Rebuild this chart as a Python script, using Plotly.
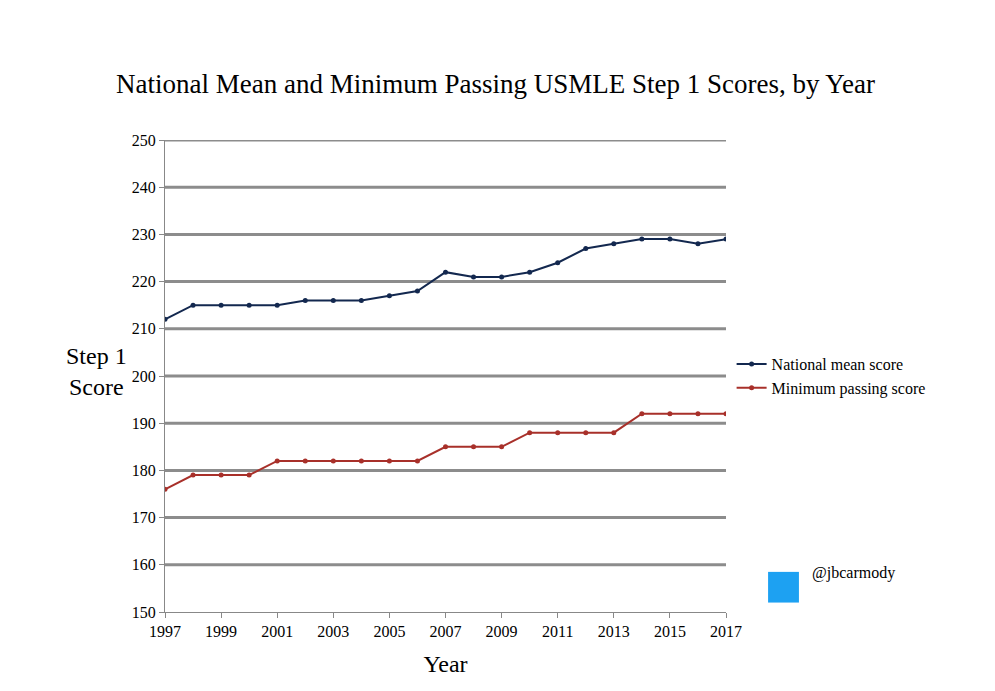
import plotly.graph_objects as go

years = list(range(1997, 2018))
mean_scores = [212, 215, 215, 215, 215, 216, 216, 216, 217, 218, 222, 221, 221, 222, 224, 227, 228, 229, 229, 228, 229]
min_scores = [176, 179, 179, 179, 182, 182, 182, 182, 182, 182, 185, 185, 185, 188, 188, 188, 188, 192, 192, 192, 192]

F = "Liberation Serif"
fig = go.Figure()
for v in range(160, 260, 10):
    fig.add_hline(y=v, line=dict(color="#8c8c8c", width=3), layer="below")
fig.add_trace(go.Scatter(x=years, y=mean_scores, mode="lines+markers", name="National mean score",
                         line=dict(color="#13284f", width=2), marker=dict(size=5, color="#13284f")))
fig.add_trace(go.Scatter(x=years, y=min_scores, mode="lines+markers", name="Minimum passing score",
                         line=dict(color="#a8302a", width=2), marker=dict(size=5, color="#a8302a")))

fig.update_layout(
    width=995, height=691, paper_bgcolor="white", plot_bgcolor="white",
    margin=dict(l=157, r=277, t=132, b=87, autoexpand=False),
    font=dict(family=F, color="black"),
    title=dict(text="National Mean and Minimum Passing USMLE Step 1 Scores, by Year",
               x=0.49, xanchor="center", y=0.89, yanchor="middle", font=dict(size=27, family=F)),
    xaxis=dict(range=[1997, 2017], tickvals=list(range(1997, 2018, 2)), showgrid=False,
               showline=True, linecolor="#888", linewidth=1, ticks="outside", ticklen=5, tickcolor="#888",
               tickfont=dict(size=16), title=dict(text="Year", font=dict(size=24)), zeroline=False),
    yaxis=dict(range=[150, 250], dtick=10, showgrid=False,
               showline=True, linecolor="#888", linewidth=1, ticks="outside", ticklen=5, tickcolor="#888",
               tickfont=dict(size=16), zeroline=False),
    legend=dict(x=1.01, y=0.5, xanchor="left", yanchor="middle", font=dict(size=16, family=F),
                bgcolor="rgba(0,0,0,0)", tracegroupgap=0, itemwidth=30),
    showlegend=True,
)
fig.add_annotation(text="Step 1<br>Score", xref="paper", yref="paper", x=-0.18, y=0.51,
                   showarrow=False, font=dict(size=24, family=F), align="center")
fig.add_shape(type="rect", xref="paper", yref="paper", x0=1.075, x1=1.13, y0=0.02, y1=0.085,
              fillcolor="#1da1f2", line=dict(width=0))
fig.add_annotation(text="@jbcarmody", xref="paper", yref="paper", x=1.15, y=0.06, xanchor="left",
                   showarrow=False, font=dict(size=16, family=F))
fig.write_html("out.html")
